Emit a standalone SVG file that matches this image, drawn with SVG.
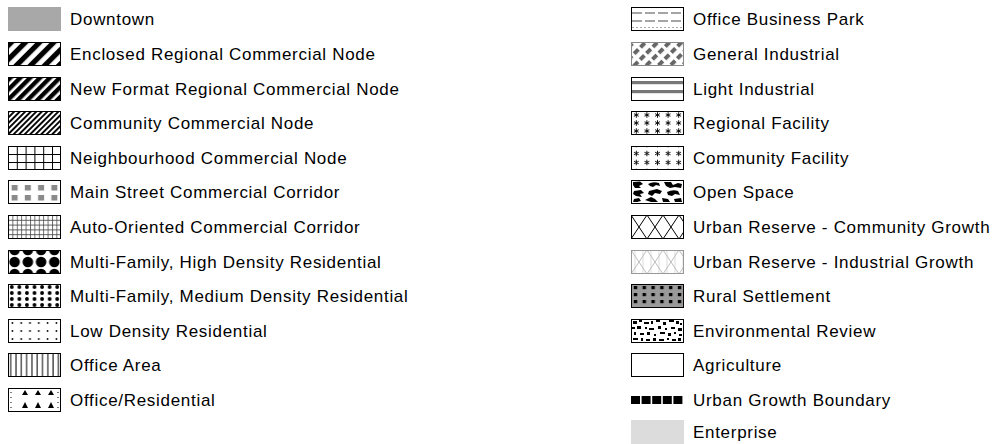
<svg xmlns="http://www.w3.org/2000/svg" width="999" height="444" viewBox="0 0 999 444">
<style>
text{font-family:"Liberation Sans",Arial,sans-serif;font-size:17px;letter-spacing:0.7px;fill:#000}
.sw{stroke:#000;stroke-width:1}
.ast{stroke:#000;stroke-width:0.9;fill:none}
</style>
<defs>
<pattern id="pEnc" width="10" height="10" patternUnits="userSpaceOnUse" patternTransform="rotate(45)"><rect width="10" height="10" fill="#fff"/><rect width="5.2" height="10" fill="#000"/></pattern>
<pattern id="pNew" width="7" height="7" patternUnits="userSpaceOnUse" patternTransform="rotate(45)"><rect width="7" height="7" fill="#fff"/><rect width="4.4" height="7" fill="#000"/></pattern>
<pattern id="pCom" width="3.9" height="4" patternUnits="userSpaceOnUse" patternTransform="rotate(45)"><rect width="3.9" height="4" fill="#fff"/><rect width="1.9" height="4" fill="#000"/></pattern>
<pattern id="pNbh" width="8.8" height="8" patternUnits="userSpaceOnUse"><rect width="8.8" height="8" fill="#fff"/><path d="M0.5,0V8M0,0.5H8.8" stroke="#000" stroke-width="1"/></pattern>
<pattern id="pMain" width="13.25" height="24" patternUnits="userSpaceOnUse"><rect width="13.25" height="24" fill="#fff"/><rect x="3.6" y="5" width="6" height="5.5" fill="#8a8a8a"/><rect x="3.6" y="15" width="6" height="5.5" fill="#8a8a8a"/></pattern>
<pattern id="pAuto" width="4.4" height="4.8" patternUnits="userSpaceOnUse"><rect width="4.4" height="4.8" fill="#fff"/><path d="M0.5,0V4.8M0,0.5H4.4" stroke="#444" stroke-width="0.8"/></pattern>
<pattern id="pHigh" width="13.25" height="12" patternUnits="userSpaceOnUse"><rect width="13.25" height="12" fill="#fff"/><circle cx="6.6" cy="0" r="5.3" fill="#000"/><circle cx="6.6" cy="12" r="5.3" fill="#000"/></pattern>
<pattern id="pMed" width="7.57" height="6" patternUnits="userSpaceOnUse"><rect width="7.57" height="6" fill="#fff"/><circle cx="3.8" cy="3" r="1.9" fill="#000"/></pattern>
<pattern id="pLow" width="8.8" height="8" patternUnits="userSpaceOnUse"><rect width="8.8" height="8" fill="#fff"/><circle cx="4.4" cy="4" r="0.9" fill="#000"/></pattern>
<pattern id="pOff" width="5.3" height="24" patternUnits="userSpaceOnUse"><rect width="5.3" height="24" fill="#fff"/><rect x="2.2" width="1" height="24" fill="#000"/></pattern>
<pattern id="pGI" width="8.5" height="9" patternUnits="userSpaceOnUse" patternTransform="rotate(45)"><rect width="8.5" height="9" fill="#fff"/><rect width="4" height="6" fill="#666"/></pattern>
<pattern id="pReg" width="10.6" height="8" patternUnits="userSpaceOnUse"><rect width="10.6" height="8" fill="#fff"/><path class="ast" d="M5.3,1.2V6.8M2.9,2.6L7.7,5.4M2.9,5.4L7.7,2.6"/></pattern>
<pattern id="pCF" y="3" width="10.6" height="9" patternUnits="userSpaceOnUse"><rect width="10.6" height="9" fill="#fff"/><path class="ast" d="M5.3,1.7V7.3M2.9,3.1L7.7,5.9M2.9,5.9L7.7,3.1"/></pattern>
<pattern id="pX" width="16" height="24" patternUnits="userSpaceOnUse"><rect width="16" height="24" fill="#fff"/><path d="M0,0L16,24M0,24L16,0" stroke="#000" stroke-width="1"/></pattern>
<pattern id="pXI" width="16" height="24" patternUnits="userSpaceOnUse"><rect width="16" height="24" fill="#fff"/><path d="M4,0V24M12,0V24" stroke="#d4d4d4" stroke-width="0.8"/><path d="M0,0L16,24M0,24L16,0" stroke="#b5b5b5" stroke-width="0.9"/></pattern>
<pattern id="pRur" width="8.8" height="7" patternUnits="userSpaceOnUse"><rect width="8.8" height="7" fill="#9a9a9a"/><rect x="2.8" y="2" width="3.4" height="3.2" fill="#000"/></pattern>
</defs>
<rect width="999" height="444" fill="#fff"/>

<g id="n-downtown" transform="translate(8,7)"><rect width="53" height="24" fill="#a8a8a8"/><text x="62" y="18">Downtown</text></g>
<g id="n-enclosed" transform="translate(8,42)"><rect class="sw" x="0.5" y="0.5" width="52" height="23" fill="url(#pEnc)"/><text x="62" y="18">Enclosed Regional Commercial Node</text></g>
<g id="n-newformat" transform="translate(8,77)"><rect class="sw" x="0.5" y="0.5" width="52" height="23" fill="url(#pNew)"/><text x="62" y="18">New Format Regional Commercial Node</text></g>
<g id="n-community" transform="translate(8,111)"><rect class="sw" x="0.5" y="0.5" width="52" height="23" fill="url(#pCom)"/><text x="62" y="18">Community Commercial Node</text></g>
<g id="n-neighbourhood" transform="translate(8,146)"><rect class="sw" x="0.5" y="0.5" width="52" height="23" fill="url(#pNbh)"/><text x="62" y="18">Neighbourhood Commercial Node</text></g>
<g id="n-mainstreet" transform="translate(8,180)"><rect class="sw" x="0.5" y="0.5" width="52" height="23" fill="url(#pMain)"/><text x="62" y="18">Main Street Commercial Corridor</text></g>
<g id="n-auto" transform="translate(8,215)"><rect class="sw" x="0.5" y="0.5" width="52" height="23" fill="url(#pAuto)"/><text x="62" y="18">Auto-Oriented Commercial Corridor</text></g>
<g id="n-mfhigh" transform="translate(8,250)"><rect class="sw" x="0.5" y="0.5" width="52" height="23" fill="url(#pHigh)"/><text x="62" y="18">Multi-Family, High Density Residential</text></g>
<g id="n-mfmed" transform="translate(8,284)"><rect class="sw" x="0.5" y="0.5" width="52" height="23" fill="url(#pMed)"/><text x="62" y="18">Multi-Family, Medium Density Residential</text></g>
<g id="n-low" transform="translate(8,319)"><rect class="sw" x="0.5" y="0.5" width="52" height="23" fill="url(#pLow)"/><text x="62" y="18">Low Density Residential</text></g>
<g id="n-office" transform="translate(8,353)"><rect class="sw" x="0.5" y="0.5" width="52" height="23" fill="url(#pOff)"/><text x="62" y="18">Office Area</text></g>
<g id="n-officeres" transform="translate(8,388)"><rect class="sw" x="0.5" y="0.5" width="52" height="23" fill="#fff"/>
<path d="M17,2L14,7H20ZM30,2L27,7H33ZM43,2L40,7H46ZM17,14L14,20H20ZM30,14L27,20H33ZM43,14L40,20H46Z" fill="#000"/>
<path d="M3,4v1M3,9v1M3,14v1M3,19v1M50,4v1M50,9v1M50,14v1M50,19v1" stroke="#000" stroke-width="1"/>
<text x="62" y="18">Office/Residential</text></g>

<g id="n-obp" transform="translate(631,7)"><rect class="sw" x="0.5" y="0.5" width="52" height="23" fill="#fff"/>
<path d="M1,6H52M1,14H52" stroke="#888" stroke-width="1.3" stroke-dasharray="10 3"/>
<path d="M1,20.5H52" stroke="#aaa" stroke-width="1" stroke-dasharray="2 2"/>
<text x="62" y="18">Office Business Park</text></g>
<g id="n-gi" transform="translate(631,42)"><rect x="0.5" y="0.5" width="52" height="23" fill="url(#pGI)" stroke="#888" stroke-width="1"/><text x="62" y="18">General Industrial</text></g>
<g id="n-li" transform="translate(631,77)"><rect class="sw" x="0.5" y="0.5" width="52" height="23" fill="#fff"/><rect x="1" y="4" width="51" height="3.2" fill="#777"/><rect x="1" y="13" width="51" height="3.2" fill="#777"/><text x="62" y="18">Light Industrial</text></g>
<g id="n-rf" transform="translate(631,111)"><rect class="sw" x="0.5" y="0.5" width="52" height="23" fill="url(#pReg)"/><text x="62" y="18">Regional Facility</text></g>
<g id="n-cf" transform="translate(631,146)"><rect class="sw" x="0.5" y="0.5" width="52" height="23" fill="url(#pCF)"/><text x="62" y="18">Community Facility</text></g>
<g id="n-os" transform="translate(631,180)"><rect class="sw" x="0.5" y="0.5" width="52" height="23" fill="#fff"/>
<path fill="#000" d="M2,2L9,1.5L12,4L8,6L10,8L4,8L2,5ZM17,4Q22,1 28,3L29,6L25,5L22,7L19,6ZM33,2L40,2L42,5L47,3L51,4L50,8L44,7L39,8L35,6ZM3,11L10,10L13,13L9,14L11,17L5,16L2,14ZM18,11L26,9L31,11L29,14L24,13L21,16L17,14ZM36,12Q42,9 47,11L49,15L44,14L41,16L37,15ZM3,19L8,18L10,21L6,22L2,22ZM14,20L20,17L24,19L27,22L20,22ZM31,18L37,19L39,22L32,22ZM43,19L50,18L51,22L44,22Z"/>
<text x="62" y="18">Open Space</text></g>
<g id="n-urcg" transform="translate(631,215)"><rect class="sw" x="0.5" y="0.5" width="52" height="23" fill="url(#pX)"/><text x="62" y="18">Urban Reserve - Community Growth</text></g>
<g id="n-urig" transform="translate(631,250)"><rect x="0.5" y="0.5" width="52" height="23" fill="url(#pXI)" stroke="#999" stroke-width="1"/><text x="62" y="18">Urban Reserve - Industrial Growth</text></g>
<g id="n-rs" transform="translate(631,284)"><rect class="sw" x="0.5" y="0.5" width="52" height="23" fill="url(#pRur)"/><text x="62" y="18">Rural Settlement</text></g>
<g id="n-er" transform="translate(631,319)"><rect class="sw" x="0.5" y="0.5" width="52" height="23" fill="#fff"/>
<path fill="#000" d="M2,2h4v3h-4zM8,1h3v2h-3zM13,3h5v2h-5zM20,2h2v3h-2zM25,1h4v2h-4zM32,3h3v3h-3zM38,1h5v2h-5zM45,2h3v3h-3zM49,4h2v2h-2zM1,8h3v2h-3zM6,7h4v3h-4zM14,8h2v2h-2zM18,9h5v2h-5zM27,7h3v3h-3zM34,9h2v2h-2zM40,8h4v2h-4zM47,9h4v3h-4zM3,13h2v3h-2zM9,14h4v2h-4zM16,13h3v3h-3zM23,15h2v2h-2zM29,13h5v2h-5zM37,14h3v3h-3zM43,13h2v2h-2zM48,15h3v2h-3zM2,19h5v2h-5zM10,19h2v3h-2zM15,20h4v2h-4zM22,19h3v3h-3zM28,20h5v2h-5zM36,19h2v2h-2zM41,20h4v2h-4zM47,19h3v3h-3z"/>
<text x="62" y="18">Environmental Review</text></g>
<g id="n-ag" transform="translate(631,353)"><rect class="sw" x="0.5" y="0.5" width="52" height="23" fill="#fff"/><text x="62" y="18">Agriculture</text></g>
<g id="n-ugb" transform="translate(631,388)"><path d="M0,8h9v8h-9zM10.6,8h9v8h-9zM21.2,8h9v8h-9zM31.8,8h9v8h-9zM42.4,8h9v8h-9z" fill="#000"/><text x="62" y="18">Urban Growth Boundary</text></g>
<g id="n-ent" transform="translate(631,420)"><rect width="53" height="24" fill="#dcdcdc"/><text x="62" y="18">Enterprise</text></g>
<g id="connectors"/>
</svg>
